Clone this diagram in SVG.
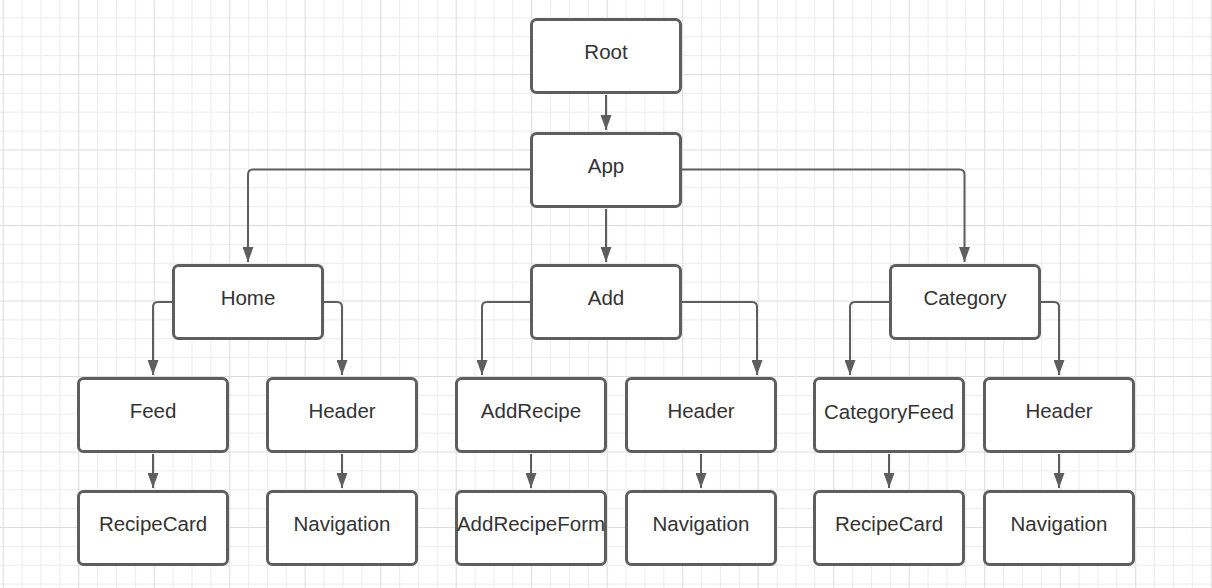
<svg xmlns="http://www.w3.org/2000/svg" width="1212" height="588" viewBox="0 0 1212 588">
<style>
.box{fill:#ffffff;stroke:#5e5e5e;stroke-width:3}
.lbl{font-family:"Liberation Sans",Arial,sans-serif;font-size:20.5px;fill:#333333;text-anchor:middle}
.con{fill:none;stroke:#5e5e5e;stroke-width:2;marker-end:url(#arr)}
</style>
<defs>
<pattern id="grid" patternUnits="userSpaceOnUse" x="2.7" y="-1.5" width="75.5" height="75.5">
<rect x="0" y="0" width="75.5" height="75.5" fill="#ffffff"/>
<g fill="#ececec">
<rect x="18.875" y="0" width="1" height="75.5"/>
<rect x="37.75" y="0" width="1" height="75.5"/>
<rect x="56.625" y="0" width="1" height="75.5"/>
<rect x="0" y="18.875" width="75.5" height="1"/>
<rect x="0" y="37.75" width="75.5" height="1"/>
<rect x="0" y="56.625" width="75.5" height="1"/>
</g>
<g fill="#dcdcdc">
<rect x="0" y="0" width="1" height="75.5"/>
<rect x="0" y="0" width="75.5" height="1"/>
</g>
</pattern>
<marker id="arr" markerUnits="userSpaceOnUse" viewBox="0 0 15 11" refX="15" refY="5.5" markerWidth="15" markerHeight="11" orient="auto">
<path d="M0,0 L15,5.5 L0,11 Z" fill="#5e5e5e"/>
</marker>
</defs>
<rect x="0" y="0" width="1212" height="588" fill="url(#grid)"/>

<g id="connectors">
<path class="con" d="M606,95 V130"/>
<path class="con" d="M606,209 V262"/>
<path class="con" d="M530,169.5 H253 Q248,169.5 248,174.5 V262"/>
<path class="con" d="M682,169.5 H959.5 Q964.5,169.5 964.5,174.5 V262"/>
<path class="con" d="M172,302 H158 Q153,302 153,307 V375"/>
<path class="con" d="M324,302 H337 Q342,302 342,307 V375"/>
<path class="con" d="M530,302 H487 Q482,302 482,307 V375"/>
<path class="con" d="M682,302 H752 Q757,302 757,307 V375"/>
<path class="con" d="M889,302 H855 Q850,302 850,307 V375"/>
<path class="con" d="M1041,302 H1054 Q1059,302 1059,307 V375"/>
<path class="con" d="M153,454 V488"/>
<path class="con" d="M342,454 V488"/>
<path class="con" d="M531,454 V488"/>
<path class="con" d="M701,454 V488"/>
<path class="con" d="M889,454 V488"/>
<path class="con" d="M1059,454 V488"/>
</g>

<g id="root"><rect class="box" x="531.5" y="19.5" width="149" height="73" rx="5"/><text class="lbl" x="606" y="59">Root</text></g>
<g id="app"><rect class="box" x="531.5" y="133.5" width="149" height="73" rx="5"/><text class="lbl" x="606" y="173">App</text></g>
<g id="home"><rect class="box" x="173.5" y="265.5" width="149" height="73" rx="5"/><text class="lbl" x="248" y="305">Home</text></g>
<g id="add"><rect class="box" x="531.5" y="265.5" width="149" height="73" rx="5"/><text class="lbl" x="606" y="305">Add</text></g>
<g id="category"><rect class="box" x="890.5" y="265.5" width="149" height="73" rx="5"/><text class="lbl" x="965" y="305">Category</text></g>
<g id="feed"><rect class="box" x="78.5" y="378.5" width="149" height="73" rx="5"/><text class="lbl" x="153" y="418">Feed</text></g>
<g id="header-home"><rect class="box" x="267.5" y="378.5" width="149" height="73" rx="5"/><text class="lbl" x="342" y="418">Header</text></g>
<g id="addrecipe"><rect class="box" x="456.5" y="378.5" width="149" height="73" rx="5"/><text class="lbl" x="531" y="418">AddRecipe</text></g>
<g id="header-add"><rect class="box" x="626.5" y="378.5" width="149" height="73" rx="5"/><text class="lbl" x="701" y="418">Header</text></g>
<g id="categoryfeed"><rect class="box" x="814.5" y="378.5" width="149" height="73" rx="5"/><text class="lbl" x="889" y="419">CategoryFeed</text></g>
<g id="header-category"><rect class="box" x="984.5" y="378.5" width="149" height="73" rx="5"/><text class="lbl" x="1059" y="418">Header</text></g>
<g id="recipecard-home"><rect class="box" x="78.5" y="491.5" width="149" height="73" rx="5"/><text class="lbl" x="153" y="531">RecipeCard</text></g>
<g id="navigation-home"><rect class="box" x="267.5" y="491.5" width="149" height="73" rx="5"/><text class="lbl" x="342" y="531">Navigation</text></g>
<g id="addrecipeform"><rect class="box" x="456.5" y="491.5" width="149" height="73" rx="5"/><text class="lbl" x="531" y="531">AddRecipeForm</text></g>
<g id="navigation-add"><rect class="box" x="626.5" y="491.5" width="149" height="73" rx="5"/><text class="lbl" x="701" y="531">Navigation</text></g>
<g id="recipecard-category"><rect class="box" x="814.5" y="491.5" width="149" height="73" rx="5"/><text class="lbl" x="889" y="531">RecipeCard</text></g>
<g id="navigation-category"><rect class="box" x="984.5" y="491.5" width="149" height="73" rx="5"/><text class="lbl" x="1059" y="531">Navigation</text></g>
</svg>
